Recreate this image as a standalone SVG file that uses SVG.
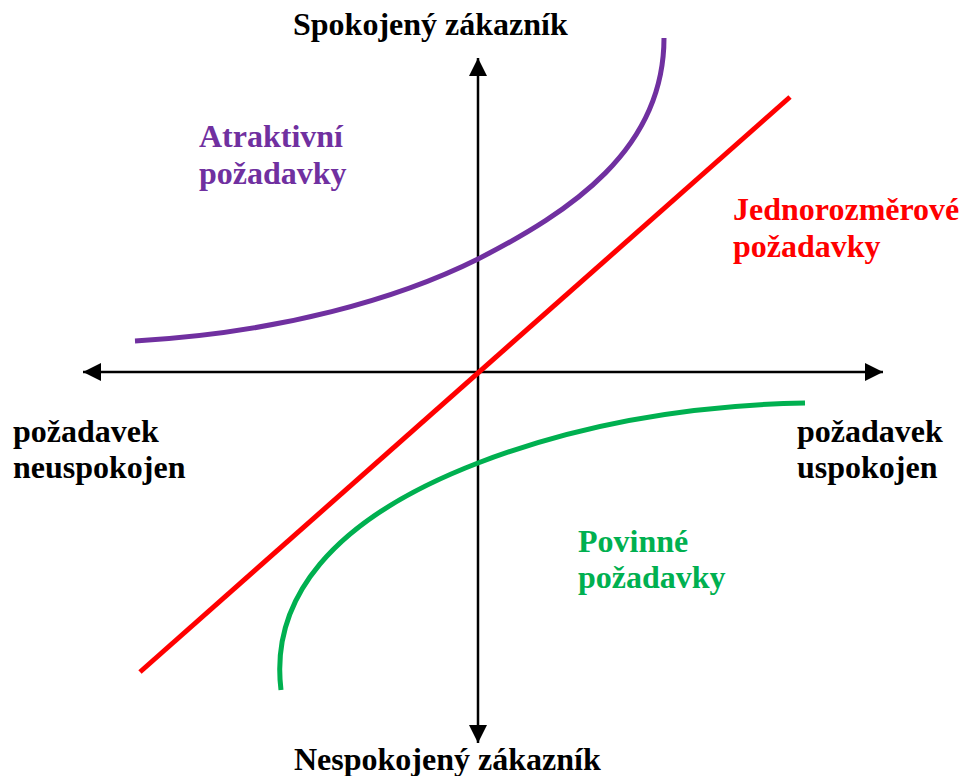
<svg xmlns="http://www.w3.org/2000/svg" width="963" height="776" viewBox="0 0 963 776">
<defs>
<style>
text{font-family:"Liberation Serif","Times New Roman",serif;font-weight:bold;font-size:32px}
.blk{fill:#000}
.pur{fill:#7030A0}
.red{fill:#FF0000}
.grn{fill:#00B050}
.axis{stroke:#000;stroke-width:2.5;fill:none}
.curve{fill:none;stroke-width:5}
</style>
<marker id="ah" markerUnits="userSpaceOnUse" markerWidth="18" markerHeight="18" viewBox="0 0 16 16" refX="16" refY="8" orient="auto">
<path d="M0,0 L16,8 L0,16 Z" fill="#000"/>
</marker>
</defs>
<rect width="963" height="776" fill="#fff"/>
<g id="connectors">
<line class="axis" x1="478" y1="372" x2="478" y2="58" marker-end="url(#ah)"/>
<line class="axis" x1="478" y1="372" x2="478" y2="743" marker-end="url(#ah)"/>
<line class="axis" x1="478" y1="372" x2="83" y2="372" marker-end="url(#ah)"/>
<line class="axis" x1="478" y1="372" x2="883" y2="372" marker-end="url(#ah)"/>
</g>
<g id="curve-attractive">
<path class="curve" stroke="#7030A0" d="M135,341 C280,333 400,298 478,259 C570,212 664,150 664,38"/>
</g>
<g id="curve-onedimensional">
<line class="curve" stroke="#FF0000" x1="140" y1="672" x2="790" y2="97"/>
</g>
<g id="curve-mustbe">
<path class="curve" stroke="#00B050" d="M281,690 C270,600 330,520 478,463 C590,420 700,405 805,403"/>
</g>
<g id="label-top"><text class="blk" x="293" y="35">Spokojený zákazník</text></g>
<g id="label-bottom"><text class="blk" x="294" y="770">Nespokojený zákazník</text></g>
<g id="label-left"><text class="blk" x="13" y="442">požadavek</text><text class="blk" x="13" y="478">neuspokojen</text></g>
<g id="label-right"><text class="blk" x="797" y="442">požadavek</text><text class="blk" x="797" y="478">uspokojen</text></g>
<g id="label-attractive"><text class="pur" x="199" y="147">Atraktivní</text><text class="pur" x="199" y="184">požadavky</text></g>
<g id="label-onedimensional"><text class="red" x="733" y="220">Jednorozměrové</text><text class="red" x="733" y="257">požadavky</text></g>
<g id="label-mustbe"><text class="grn" x="578" y="552">Povinné</text><text class="grn" x="578" y="588">požadavky</text></g>
</svg>
